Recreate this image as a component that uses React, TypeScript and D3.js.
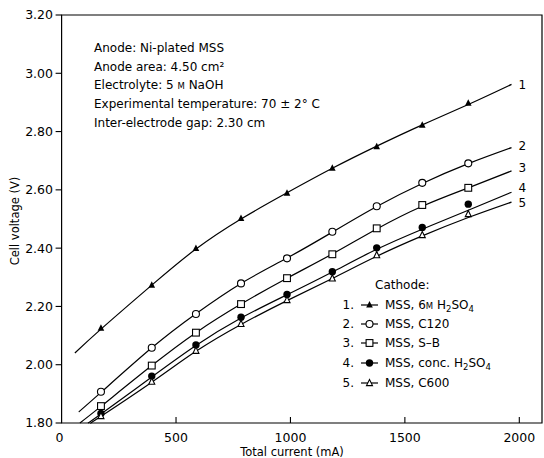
import React from "react";
import * as d3 from "d3";

// Measured currents (mA) shared by all cathodes
const currents = [172, 394, 587, 784, 985, 1183, 1377, 1576, 1777];

// Measured cell voltages (V) for each cathode
const voltsH2SO4_6M = [2.125, 2.273, 2.399, 2.502, 2.588, 2.674, 2.748, 2.822, 2.897];
const voltsC120 = [1.907, 2.058, 2.174, 2.279, 2.365, 2.456, 2.544, 2.624, 2.691];
const voltsSB = [1.858, 1.997, 2.11, 2.208, 2.297, 2.379, 2.468, 2.548, 2.607];
const voltsConcH2SO4 = [1.833, 1.961, 2.068, 2.163, 2.241, 2.319, 2.401, 2.471, 2.551];
const voltsC600 = [1.824, 1.942, 2.048, 2.14, 2.222, 2.296, 2.376, 2.445, 2.517];

// Smoothed fit curves: [current, voltage] knots
const fitH2SO4_6M: [number, number][] = [[58, 2.04], [172, 2.122], [394, 2.273], [587, 2.397], [784, 2.5], [985, 2.59], [1183, 2.674], [1377, 2.75], [1576, 2.823], [1777, 2.893], [1966, 2.962]];
const fitC120: [number, number][] = [[75, 1.838], [172, 1.905], [394, 2.058], [587, 2.175], [784, 2.279], [985, 2.366], [1183, 2.455], [1377, 2.543], [1576, 2.622], [1777, 2.69], [1966, 2.745]];
const fitSB: [number, number][] = [[80, 1.8], [172, 1.857], [394, 1.997], [587, 2.11], [784, 2.208], [985, 2.297], [1183, 2.38], [1377, 2.466], [1576, 2.544], [1777, 2.607], [1966, 2.665]];
const fitConcH2SO4: [number, number][] = [[115, 1.8], [172, 1.831], [394, 1.958], [587, 2.066], [784, 2.16], [985, 2.24], [1183, 2.318], [1377, 2.396], [1576, 2.465], [1777, 2.53], [1966, 2.592]];
const fitC600: [number, number][] = [[127, 1.8], [172, 1.823], [394, 1.94], [587, 2.046], [784, 2.138], [985, 2.22], [1183, 2.296], [1377, 2.372], [1576, 2.442], [1777, 2.505], [1966, 2.558]];

const xTicks = [0, 500, 1000, 1500, 2000];
const yTicks = [1.8, 2.0, 2.2, 2.4, 2.6, 2.8, 3.0, 3.2];

const notes = [
  "Anode: Ni-plated MSS",
  "Anode area: 4.50 cm\u00B2",
  "Electrolyte: 5 M NaOH",
  "Experimental temperature: 70 \u00B1 2\u00B0 C",
  "Inter-electrode gap: 2.30 cm",
];

type Marker = "triUp" | "circleOpen" | "squareOpen" | "circleFilled" | "triOpen";

const series: { id: string; marker: Marker; values: number[]; fit: [number, number][]; labelDy: number }[] = [
  { id: "1", marker: "triUp", values: voltsH2SO4_6M, fit: fitH2SO4_6M, labelDy: 0 },
  { id: "2", marker: "circleOpen", values: voltsC120, fit: fitC120, labelDy: -2 },
  { id: "3", marker: "squareOpen", values: voltsSB, fit: fitSB, labelDy: -3 },
  { id: "4", marker: "circleFilled", values: voltsConcH2SO4, fit: fitConcH2SO4, labelDy: -4 },
  { id: "5", marker: "triOpen", values: voltsC600, fit: fitC600, labelDy: 1 },
];

const FONT = "'DejaVu Sans', Verdana, sans-serif";

function MarkerShape({ kind, x, y }: { kind: Marker; x: number; y: number }) {
  switch (kind) {
    case "triUp":
      return <path d={`M${x},${y - 4}L${x + 3.3},${y + 2.5}L${x - 3.3},${y + 2.5}Z`} fill="#000" />;
    case "circleOpen":
      return <circle cx={x} cy={y} r={3.5} fill="#fff" stroke="#000" strokeWidth={1.1} />;
    case "squareOpen":
      return <rect x={x - 3.4} y={y - 3.4} width={6.8} height={6.8} fill="#fff" stroke="#000" strokeWidth={1.1} />;
    case "circleFilled":
      return <circle cx={x} cy={y} r={3.7} fill="#000" />;
    case "triOpen":
      return <path d={`M${x},${y - 3.6}L${x + 3},${y + 2.6}L${x - 3},${y + 2.6}Z`} fill="#fff" stroke="#000" strokeWidth={1.1} />;
  }
}

function SmallM() {
  return <tspan fontSize={8.5}>M</tspan>;
}

function Sub({ t }: { t: string }) {
  return (
    <tspan fontSize={8.5} dy={3}>
      {t}
    </tspan>
  );
}

const legendLabels: React.ReactNode[] = [
  <>MSS, 6<SmallM /> H<Sub t="2" /><tspan dy={-3}>SO</tspan><Sub t="4" /></>,
  <>MSS, C120</>,
  <>MSS, S{"\u2013"}B</>,
  <>MSS, conc. H<Sub t="2" /><tspan dy={-3}>SO</tspan><Sub t="4" /></>,
  <>MSS, C600</>,
];
const legendRowY = [305, 324, 343, 363, 383];

export default function App() {
  const width = 544;
  const height = 458;
  const x = d3.scaleLinear().domain([0, 2000]).range([61.6, 519.3]);
  const y = d3.scaleLinear().domain([1.8, 3.2]).range([423, 15]);
  const line = d3
    .line<[number, number]>()
    .x((d) => x(d[0]))
    .y((d) => y(d[1]))
    .curve(d3.curveNatural);

  const left = x(0);
  const right = 542;
  const top = y(3.2);
  const bottom = y(1.8);

  return (
    <svg
      width={width}
      height={height}
      style={{ position: "absolute", left: 0, top: 0, background: "#fff" }}
      fontFamily={FONT}
    >
      <rect width={width} height={height} fill="#fff" />
      {/* frame */}
      <path
        d={`M${left},${top}L${right},${top}L${right},${bottom}L${left},${bottom}Z`}
        fill="none"
        stroke="#000"
        strokeWidth={1.2}
      />
      {/* y axis ticks and labels */}
      {yTicks.map((t) => (
        <g key={t}>
          <line x1={left - 6} x2={left} y1={y(t)} y2={y(t)} stroke="#000" strokeWidth={1.1} />
          <text x={53} y={y(t)} dy="0.35em" textAnchor="end" fontSize={12.5}>
            {d3.format(".2f")(t)}
          </text>
        </g>
      ))}
      {/* x axis ticks and labels */}
      {xTicks.map((t) => (
        <g key={t}>
          {t > 0 && <line x1={x(t)} x2={x(t)} y1={bottom} y2={bottom - 6} stroke="#000" strokeWidth={1.1} />}
          <text x={x(t) - (t === 0 ? 2 : 0)} y={442} textAnchor="middle" fontSize={12.5}>
            {t}
          </text>
        </g>
      ))}
      <text x={292} y={456} textAnchor="middle" fontSize={11.5}>
        Total current (mA)
      </text>
      <text transform="translate(19,221) rotate(-90)" textAnchor="middle" fontSize={11.5}>
        Cell voltage (V)
      </text>

      {/* condition notes */}
      {notes.map((n, i) => (
        <text key={i} x={94} y={52 + i * 18.7} fontSize={12}>
          {n.includes(" M ") ? (
            <>
              {n.split(" M ")[0]} <SmallM /> {n.split(" M ")[1]}
            </>
          ) : (
            n
          )}
        </text>
      ))}

      {/* fit curves, points and curve numbers */}
      {series.map((s) => {
        const end = s.fit[s.fit.length - 1];
        return (
          <g key={s.id}>
            <path d={line(s.fit) || ""} fill="none" stroke="#000" strokeWidth={1.2} />
            {s.values.map((v, i) => (
              <MarkerShape key={i} kind={s.marker} x={x(currents[i])} y={y(v)} />
            ))}
            <text x={x(end[0]) + 7} y={y(end[1]) + s.labelDy} dy="0.35em" fontSize={12}>
              {s.id}
            </text>
          </g>
        );
      })}

      {/* legend */}
      <text x={375} y={289} fontSize={12}>
        Cathode:
      </text>
      {series.map((s, i) => (
        <g key={s.id}>
          <text x={354} y={legendRowY[i]} dy="0.35em" textAnchor="end" fontSize={12}>
            {s.id}.
          </text>
          <line x1={361} x2={378} y1={legendRowY[i]} y2={legendRowY[i]} stroke="#000" strokeWidth={1.2} />
          <MarkerShape kind={s.marker} x={369.5} y={legendRowY[i]} />
          <text x={385} y={legendRowY[i]} dy="0.35em" fontSize={12}>
            {legendLabels[i]}
          </text>
        </g>
      ))}
    </svg>
  );
}
